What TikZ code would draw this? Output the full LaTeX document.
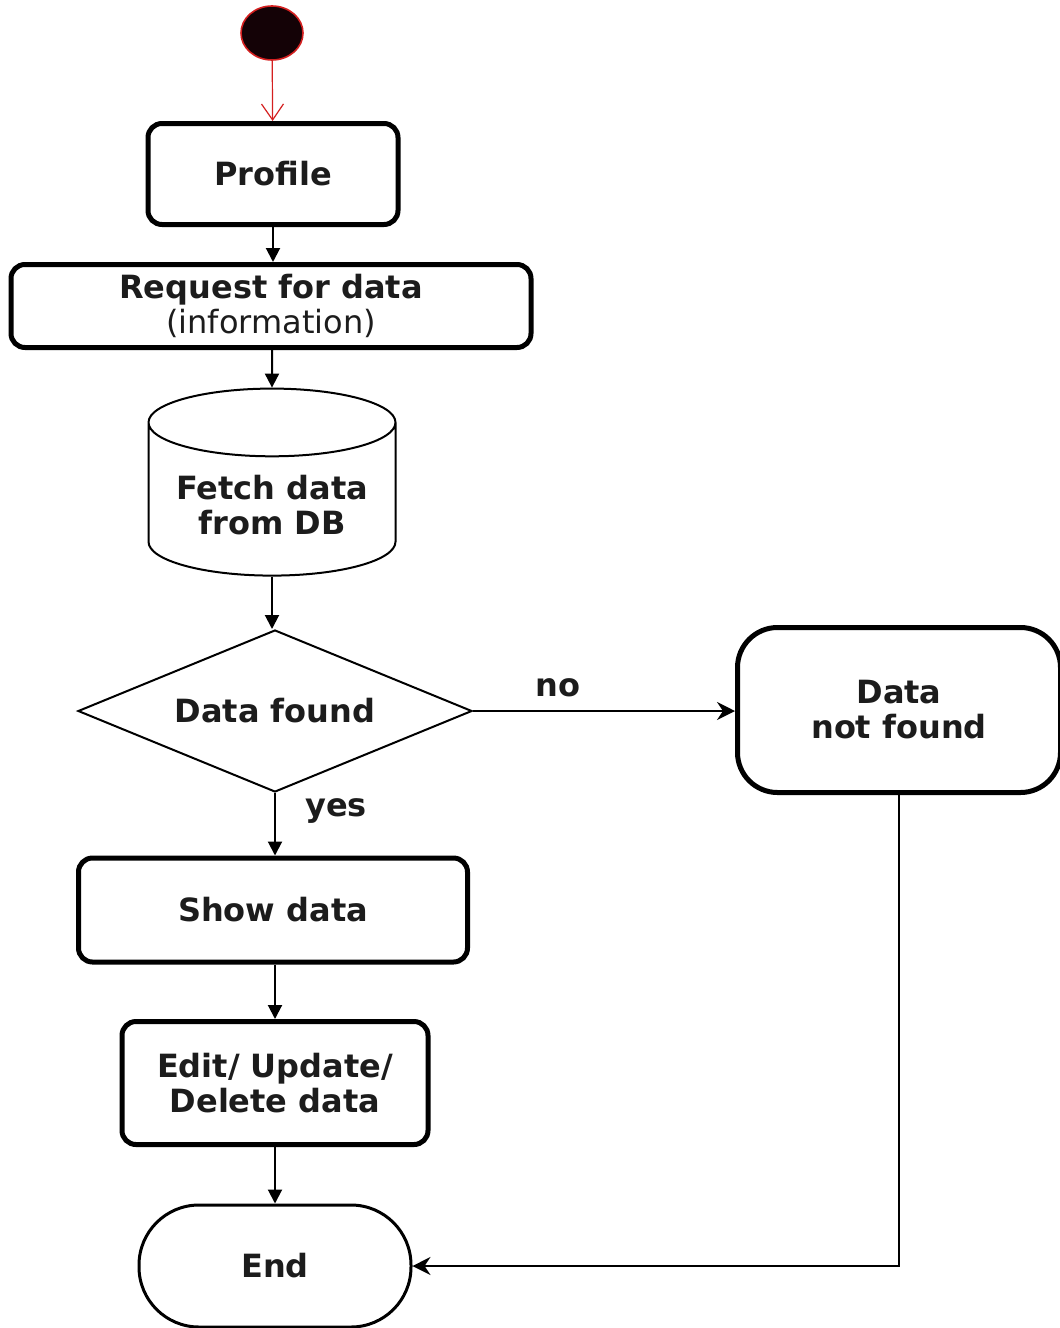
\documentclass[tikz,border=0pt]{standalone}
\usepackage{fontspec}
\setmainfont{DejaVu Sans}
\usepackage{tikz}
\usepackage{xcolor}
\usetikzlibrary{arrows.meta,shapes.geometric,shapes.symbols}
\definecolor{startred}{HTML}{d42020}
\definecolor{startfill}{HTML}{140206}
\definecolor{ink}{HTML}{1c1c1c}

\tikzset{
    stepbox/.style={draw, line width=2.5pt, rounded corners=7pt, align=center,
        text=ink, font=\bfseries\fontsize{16}{17.5}\selectfont},
    lbl/.style={text=ink, font=\bfseries\fontsize{16}{17.5}\selectfont},
    flow/.style={-{Triangle[length=7pt,width=7pt]}, line width=1pt},
    sideflow/.style={-{Stealth[length=9pt,width=9pt,inset=3pt]}, line width=1.1pt},
}

\begin{document}
\begin{tikzpicture}[x=0.5pt, y=-0.5pt]
        \useasboundingbox (0,0) rectangle (1060,1328);
        \node[ellipse, draw=startred, fill=startfill, line width=0.8pt,
            minimum width=31pt, minimum height=27pt, inner sep=0pt] (start) at (272,33) {};
        \node[stepbox, minimum width=125pt, minimum height=50.5pt] (profile) at (273,174) {Profile};
        \node[stepbox, minimum width=260pt, minimum height=41.5pt] (request) at (271,306) {Request for data\\
            \mdseries(information)};
        \node[cylinder, shape border rotate=90, draw, line width=1pt, aspect=0.33,
            minimum width=123.5pt, minimum height=93.5pt, align=center, text=ink,
            font=\bfseries\fontsize{16}{17.5}\selectfont] (fetch) at (272,505) {Fetch data\\from DB};
        \node[diamond, draw, line width=1pt, aspect=2.43, inner sep=0pt,
            minimum width=197pt, minimum height=81pt, text=ink,
            font=\bfseries\fontsize{16}{17.5}\selectfont] (found) at (275,711) {Data found};
        \node[stepbox, rounded corners=20pt, minimum width=161.5pt, minimum height=82.5pt]
            (notfound) at (899,710) {Data\\not found};
        \node[stepbox, minimum width=194.5pt, minimum height=52pt] (show) at (273,910) {Show data};
        \node[stepbox, minimum width=153pt, minimum height=61.5pt] (edit) at (275,1083) {Edit/ Update/\\Delete data};
        \node[stepbox, line width=1.5pt, rounded corners=30pt, minimum width=136pt, minimum height=61pt]
            (endnode) at (275,1266) {End};
        \node[lbl] (no) at (558,688) {no};
        \node[lbl] (yes) at (336,811) {yes};

        \draw[startred, line width=0.6pt, -{Straight Barb[length=8pt,width=11pt]}] (start) -- (profile);
        \draw[flow] (profile) -- (profile |- request.north);
        \draw[flow] (request.south -| fetch) -- (fetch);
        \draw[flow] (fetch) -- (fetch |- found.north);
        \draw[sideflow] (found.east) -- (found.east -| notfound.west);
        \draw[flow] (found) -- (found |- show.north);
        \draw[flow] (show.south -| edit) -- (edit);
        \draw[flow] (edit) -- (endnode);
        \draw[sideflow] (notfound.south) |- (endnode.east);
    \end{tikzpicture}
\end{document}
